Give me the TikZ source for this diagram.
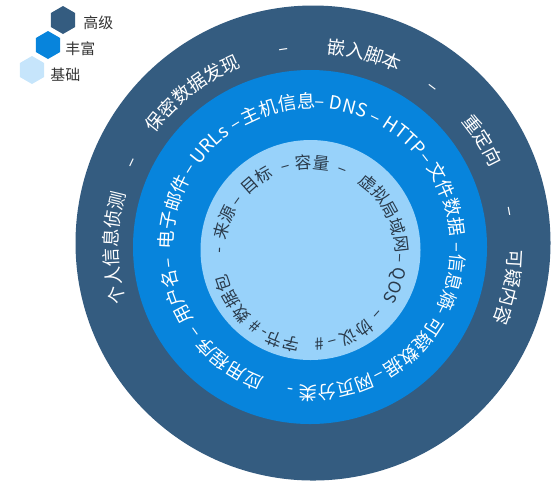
\documentclass[tikz,border=0pt]{standalone}
\usepackage{fontspec}
\setmainfont{Noto Sans CJK SC}
\usetikzlibrary{shapes.geometric,decorations.text}

\definecolor{ringdark}{HTML}{345C80}
\definecolor{ringmid}{HTML}{0784DC}
\definecolor{ringlight}{HTML}{98D2FA}
\definecolor{hexlight}{HTML}{C6E5FB}
\definecolor{innerink}{HTML}{2A3A4A}
\definecolor{legendink}{HTML}{333333}

\tikzset{
  hexa/.style={regular polygon, regular polygon sides=6, shape border rotate=30,
    minimum size=0.56cm, inner sep=0pt},
  legendlabel/.style={anchor=west, inner sep=0pt, text=legendink, font=\fontsize{8.5}{10}\selectfont},
  whiteword/.style={decorate, decoration={text along path, text align=center, text color=white}},
  darkword/.style={decorate, decoration={text along path, text align=center, text color=innerink}},
  hashmark/.style={inner sep=0pt, text=innerink, font=\fontsize{9.5}{12}\selectfont},
}

% word centred at an angle on a clockwise arc
\newcommand{\ringword}[5]{%
  \path[#1, decoration={text={#5}}]
    (#2) ++(#3+45:#4) arc[start angle=#3+45, delta angle=-90, radius=#4];}

\begin{document}
\begin{tikzpicture}[x=0.02cm, y=0.02cm]
    \useasboundingbox (0,0) rectangle (557,-485);

    % Rings
    \coordinate (outerc) at (313,-243);
    \coordinate (midc) at (310,-247);
    \coordinate (innerc) at (310.5,-250);
    \fill[ringdark] (outerc) circle[radius=237.5];
    \fill[ringmid] (midc) circle[radius=177];
    \fill[ringlight] (innerc) circle[radius=110];

    % Text centres
    \coordinate (otxt) at (313,-248);
    \coordinate (mtxt) at (312,-247);
    \coordinate (itxt) at (310,-254);

    \fontsize{10.5}{13}\selectfont
    % Outer ring
    \ringword{whiteword}{otxt}{180}{195}{个人信息侦测}
    \ringword{whiteword}{otxt}{154.7}{195}{–}
    \ringword{whiteword}{otxt}{127.9}{195}{保密数据发现}
    \ringword{whiteword}{otxt}{98.5}{195}{–}
    \ringword{whiteword}{otxt}{75.1}{195}{嵌入脚本}
    \ringword{whiteword}{otxt}{53.3}{195}{–}
    \ringword{whiteword}{otxt}{32.4}{195}{重定向}
    \ringword{whiteword}{otxt}{10.4}{195}{–}
    \ringword{whiteword}{otxt}{-11.4}{195}{可疑内容}

    % Middle ring
    \ringword{whiteword}{mtxt}{234.9}{139}{应用程序}
    \ringword{whiteword}{mtxt}{215.8}{139}{–}
    \ringword{whiteword}{mtxt}{200.1}{139}{用户名}
    \ringword{whiteword}{mtxt}{186.4}{139}{–}
    \ringword{whiteword}{mtxt}{165.7}{139}{电子邮件}
    \ringword{whiteword}{mtxt}{147.7}{139}{–}
    \ringword{whiteword}{mtxt}{135}{139}{URLs}
    \ringword{whiteword}{mtxt}{121.6}{139}{–}
    \ringword{whiteword}{mtxt}{103.7}{139}{主机信息}
    \ringword{whiteword}{mtxt}{86.9}{139}{–}
    \ringword{whiteword}{mtxt}{75.4}{139}{DNS}
    \ringword{whiteword}{mtxt}{63.8}{139}{–}
    \ringword{whiteword}{mtxt}{50.2}{139}{HTTP}
    \ringword{whiteword}{mtxt}{37.8}{139}{–}
    \ringword{whiteword}{mtxt}{19.6}{139}{文件数据}
    \ringword{whiteword}{mtxt}{0}{139}{–}
    \ringword{whiteword}{mtxt}{-13.9}{139}{信息熵}
    \ringword{whiteword}{mtxt}{-25.7}{139}{–}
    \ringword{whiteword}{mtxt}{-44.5}{139}{可疑数据}
    \ringword{whiteword}{mtxt}{-62.4}{139}{–}
    \ringword{whiteword}{mtxt}{-80.2}{139}{网页分类}
    \ringword{whiteword}{mtxt}{-98.6}{139}{-}

    \fontsize{9.5}{12}\selectfont
    % Inner ring
    \ringword{darkword}{itxt}{177.5}{85.5}{-}
    \ringword{darkword}{itxt}{159.8}{85.5}{来源}
    \ringword{darkword}{itxt}{144.2}{85.5}{–}
    \ringword{darkword}{itxt}{125.8}{85.5}{目标}
    \ringword{darkword}{itxt}{105.5}{85.5}{–}
    \ringword{darkword}{itxt}{88.6}{85.5}{容量}
    \ringword{darkword}{itxt}{69}{85.5}{–}
    \ringword{darkword}{itxt}{28.8}{85.5}{虚拟局域网}
    \ringword{darkword}{itxt}{-2.6}{85.5}{–}
    \ringword{darkword}{itxt}{-20.3}{85.5}{QOS}
    \ringword{darkword}{itxt}{-41.8}{85.5}{–}
    \ringword{darkword}{itxt}{-59.5}{85.5}{协议}
    \ringword{darkword}{itxt}{-75.4}{85.5}{–}
    \ringword{darkword}{itxt}{-107.3}{85.5}{字节}
    \ringword{darkword}{itxt}{-120.1}{85.5}{-}
    \ringword{darkword}{itxt}{-150.1}{85.5}{数据包}
    \path (itxt) ++(-83.8:91) node[hashmark, rotate=-173.8] (hashbytes) {\#};
    \path (itxt) ++(-127.1:91) node[hashmark, rotate=-217.1] (hashpkts) {\#};

    % Legend
    \node[hexa, fill=ringdark] (hexadv) at (63,-20) {};
    \node[hexa, fill=ringmid] (hexrich) at (48,-45) {};
    \node[hexa, fill=hexlight] (hexbase) at (32,-70) {};
    \node[legendlabel] (lbladv) at (83,-23) {高级};
    \node[legendlabel] (lblrich) at (65,-49) {丰富};
    \node[legendlabel] (lblbase) at (50,-75) {基础};

\end{tikzpicture}
\end{document}
